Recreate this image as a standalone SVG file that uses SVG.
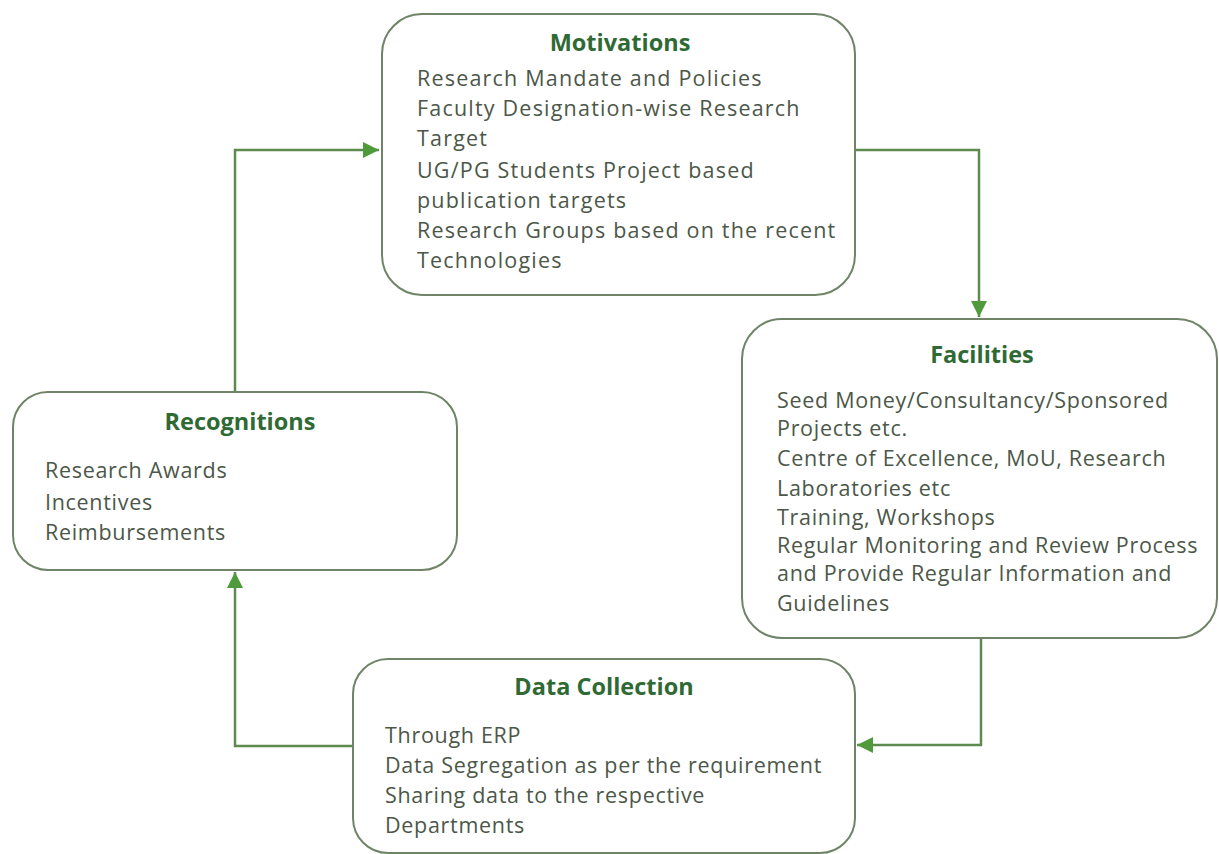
<svg xmlns="http://www.w3.org/2000/svg" width="1219" height="854" viewBox="0 0 1219 854">
<style>
.box{fill:#ffffff;stroke:#6f8466;stroke-width:2}
.title{font-family:"Open Sans","Liberation Sans",sans-serif;font-weight:bold;font-size:23.5px;fill:#2f6a35;text-anchor:middle}
.body{font-family:"Open Sans","Liberation Sans",sans-serif;font-size:21.5px;letter-spacing:0.7px;fill:#4c5749}
#motivations .body{letter-spacing:1.2px}
.conn{fill:none;stroke:#5e8a50;stroke-width:2.5}
</style>
<defs>
<marker id="arr" viewBox="0 0 10 10" refX="10" refY="5" markerWidth="6.5" markerHeight="6.5" orient="auto" markerUnits="strokeWidth">
<path d="M0,0 L10,5 L0,10 z" fill="#4f9a3a"/>
</marker>
</defs>
<rect width="1219" height="854" fill="#ffffff"/>
<g id="connectors">
<polyline class="conn" points="235,391 235,150 379,150" marker-end="url(#arr)"/>
<polyline class="conn" points="856,150 979,150 979,317" marker-end="url(#arr)"/>
<polyline class="conn" points="981,639 981,745 857,745" marker-end="url(#arr)"/>
<polyline class="conn" points="352,746 235,746 235,572" marker-end="url(#arr)"/>
</g>
<g id="motivations">
<rect class="box" x="382" y="14" width="473" height="281" rx="40" ry="40"/>
<text class="title" x="620" y="51">Motivations</text>
<text class="body" x="417" y="86">Research Mandate and Policies</text>
<text class="body" x="417" y="116">Faculty Designation-wise Research</text>
<text class="body" x="417" y="146">Target</text>
<text class="body" x="417" y="178">UG/PG Students Project based</text>
<text class="body" x="417" y="208">publication targets</text>
<text class="body" x="417" y="238">Research Groups based on the recent</text>
<text class="body" x="417" y="268">Technologies</text>
</g>
<g id="facilities">
<rect class="box" x="742" y="319" width="475" height="319" rx="40" ry="40"/>
<text class="title" x="982" y="363">Facilities</text>
<text class="body" x="777" y="408">Seed Money/Consultancy/Sponsored</text>
<text class="body" x="777" y="436">Projects etc.</text>
<text class="body" x="777" y="466">Centre of Excellence, MoU, Research</text>
<text class="body" x="777" y="496">Laboratories etc</text>
<text class="body" x="777" y="525">Training, Workshops</text>
<text class="body" x="777" y="553">Regular Monitoring and Review Process</text>
<text class="body" x="777" y="581">and Provide Regular Information and</text>
<text class="body" x="777" y="611">Guidelines</text>
</g>
<g id="recognitions">
<rect class="box" x="13" y="392" width="444" height="178" rx="35" ry="35"/>
<text class="title" x="240" y="430">Recognitions</text>
<text class="body" x="45" y="478">Research Awards</text>
<text class="body" x="45" y="510">Incentives</text>
<text class="body" x="45" y="540">Reimbursements</text>
</g>
<g id="data-collection">
<rect class="box" x="353" y="659" width="502" height="194" rx="35" ry="35"/>
<text class="title" x="604" y="695">Data Collection</text>
<text class="body" x="385" y="743">Through ERP</text>
<text class="body" x="385" y="773">Data Segregation as per the requirement</text>
<text class="body" x="385" y="803">Sharing data to the respective</text>
<text class="body" x="385" y="833">Departments</text>
</g>
</svg>
